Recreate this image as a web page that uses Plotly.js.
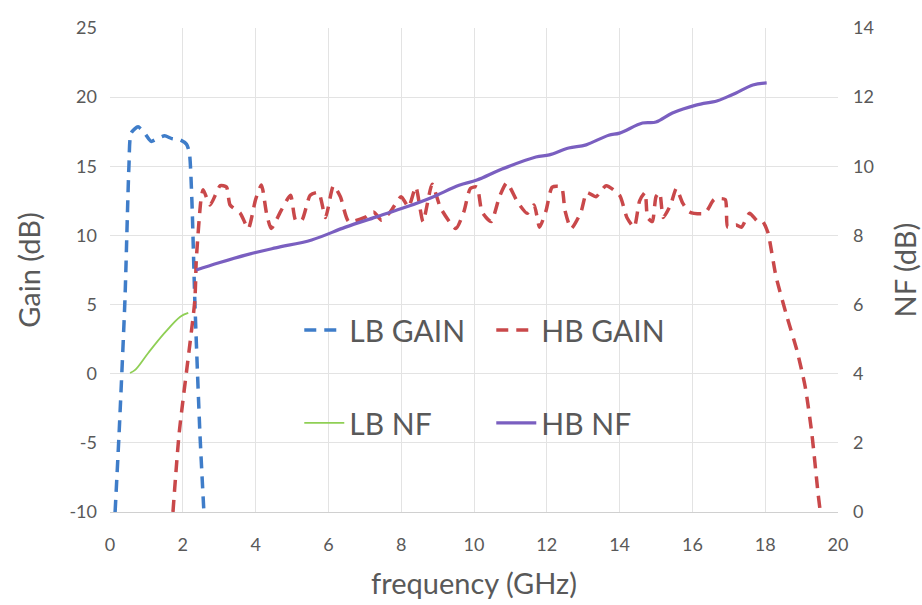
<!DOCTYPE html>
<html>
<head>
<meta charset="utf-8">
<script src="https://cdn.plot.ly/plotly-3.0.1.min.js"></script>
<style>html,body{margin:0;padding:0;background:#fff;}#chart{width:922px;height:605px;}</style>
</head>
<body>
<div id="chart"></div>
<script>
// LB GAIN (left axis, dB)
const lbGainX = [0.14,0.25,0.41,0.52,0.58,0.77,0.95,1.13,1.3,1.5,1.7,1.93,2.1,2.18,2.25,2.33,2.47,2.58];
const lbGainY = [-10,-4.3,5.3,15,17.4,17.85,17.4,16.8,17.0,17.2,17.0,16.9,16.6,16.0,12.5,5.3,-4.3,-10];

// HB GAIN (left axis, dB)
const hbGainX = [1.73,1.9,2.33,2.37,2.5,2.56,2.75,3.03,3.2,3.3,3.58,3.8,4.0,4.16,4.3,4.43,4.7,4.96,5.1,5.27,5.5,5.73,5.92,6.14,6.33,6.56,7.0,7.24,7.46,7.7,8.0,8.2,8.4,8.6,8.85,9.08,9.5,9.72,9.9,10.08,10.22,10.47,10.7,10.9,11.2,11.46,11.65,11.8,11.98,12.15,12.4,12.5,12.67,12.94,13.1,13.35,13.63,14.0,14.2,14.4,14.55,14.7,14.77,14.9,15.0,15.1,15.2,15.4,15.56,15.73,15.92,16.34,16.6,16.9,16.97,17.2,17.35,17.57,17.8,17.93,18.07,18.3,18.6,18.87,19.1,19.28,19.45,19.5];
const hbGainY = [-10,-4.3,5.3,8.2,12.6,13.3,12.2,13.6,13.5,12.2,11.6,10.5,12.6,13.65,11.6,10.5,11.8,12.9,11.1,11.1,12.9,13.1,11.3,13.6,12.8,11.0,11.3,11.7,11.1,11.7,12.8,12.05,13.5,11.0,13.7,12.0,10.5,11.7,13.4,13.5,11.7,11.0,12.8,13.8,12.4,11.6,12.2,10.6,11.8,13.5,13.5,11.8,10.5,11.7,13.1,12.8,13.6,12.9,11.3,10.6,12.5,13.1,11.3,11.0,12.8,13.1,11.3,12.2,13.4,12.35,11.7,11.6,12.6,12.6,10.6,10.75,10.6,11.6,11.0,11.0,10.25,7.0,4.1,1.7,-0.96,-4.3,-8.6,-9.7];

// LB NF (right axis, dB)
const lbNfX = [0.55,0.7,1.05,1.5,1.93,2.15];
const lbNfY = [4.02,4.12,4.6,5.18,5.65,5.76];

// HB NF (right axis, dB)
const hbNfX = [2.37,2.97,3.72,4.55,5.54,6.47,7.3,8.13,8.84,9.59,10.08,10.77,11.7,12.07,12.6,13.08,13.7,14.0,14.63,15.0,15.45,16.1,16.67,16.94,17.2,17.66,18.04];
const hbNfY = [7.0,7.2,7.43,7.64,7.87,8.24,8.53,8.82,9.1,9.45,9.6,9.92,10.27,10.33,10.53,10.62,10.9,10.96,11.25,11.28,11.54,11.77,11.89,12.0,12.12,12.35,12.41];

const xTicks = [0,2,4,6,8,10,12,14,16,18,20];
const gainTicks = [-10,-5,0,5,10,15,20,25];
const gainTickLabels = ['-10','-5','0','5','10','15','20','25'];
const nfTicks = [0,2,4,6,8,10,12,14];

const gray = '#595959';
const fontFam = 'Lato, "Open Sans", sans-serif';

const traces = [
  {x: lbGainX, y: lbGainY, name: 'LB GAIN', mode: 'lines', yaxis: 'y', legend: 'legend',
   line: {color: '#3f7dc9', width: 3.5, dash: '12px,8px', shape: 'spline', smoothing: 0.6}},
  {x: hbGainX, y: hbGainY, name: 'HB GAIN', mode: 'lines', yaxis: 'y', legend: 'legend',
   line: {color: '#c9484a', width: 3.5, dash: '12px,8px', shape: 'spline', smoothing: 0.6}},
  {x: lbNfX, y: lbNfY, name: 'LB NF', mode: 'lines', yaxis: 'y2', legend: 'legend2',
   line: {color: '#8fcf55', width: 1.8, shape: 'spline'}},
  {x: hbNfX, y: hbNfY, name: 'HB NF', mode: 'lines', yaxis: 'y2', legend: 'legend2',
   line: {color: '#7a5fc0', width: 3.2, shape: 'spline'}}
];

const layout = {
  width: 922, height: 605,
  margin: {l: 110, r: 84, t: 28, b: 93},
  paper_bgcolor: '#fff', plot_bgcolor: '#fff',
  font: {family: fontFam, color: gray},
  showlegend: true,
  xaxis: {
    range: [0, 20], tickvals: xTicks, ticktext: xTicks.map(String),
    showgrid: true, gridcolor: '#e3e3e3', gridwidth: 1,
    zeroline: false, showline: true, linecolor: '#d0d0d0', ticks: '',
    ticklabelstandoff: 16,
    tickfont: {size: 18, color: gray, family: fontFam},
    title: {text: 'frequency (GHz)', font: {size: 29, color: gray, family: fontFam}, standoff: 20}
  },
  yaxis: {
    range: [-10, 25], tickvals: gainTicks, ticktext: gainTickLabels, showgrid: true, gridcolor: '#e3e3e3',
    zeroline: false, showline: false, ticks: '',
    ticklabelstandoff: 12,
    tickfont: {size: 18, color: gray, family: fontFam},
    title: {text: 'Gain (dB)', font: {size: 29, color: gray, family: fontFam}, standoff: 20}
  },
  yaxis2: {
    range: [0, 14], tickvals: nfTicks, ticktext: nfTicks.map(String), overlaying: 'y', side: 'right', showgrid: false,
    zeroline: false, showline: false, ticks: '',
    ticklabelstandoff: 14,
    tickfont: {size: 18, color: gray, family: fontFam},
    title: {text: 'NF (dB)', font: {size: 29, color: gray, family: fontFam}, standoff: 22}
  },
  legend: {
    orientation: 'h', x: 0.26, y: 0.376, xanchor: 'left', yanchor: 'middle',
    entrywidth: 137, entrywidthmode: 'pixels', bgcolor: 'rgba(0,0,0,0)',
    font: {size: 30, color: gray, family: fontFam}, itemwidth: 40
  },
  legend2: {
    orientation: 'h', x: 0.26, y: 0.184, xanchor: 'left', yanchor: 'middle',
    entrywidth: 137, entrywidthmode: 'pixels', bgcolor: 'rgba(0,0,0,0)',
    font: {size: 30, color: gray, family: fontFam}, itemwidth: 40
  }
};

Plotly.newPlot('chart', traces, layout, {displayModeBar: false, staticPlot: true});
</script>
</body>
</html>
